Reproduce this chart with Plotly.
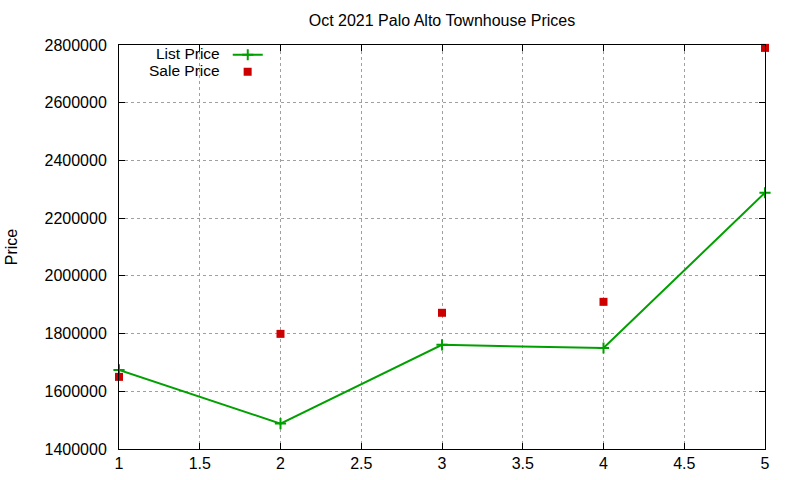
import plotly.graph_objects as go

x_vals = [1, 2, 3, 4, 5]
list_price = [1674000, 1488000, 1761000, 1750000, 2288000]
sale_price = [1650000, 1799000, 1872000, 1910000, 2790000]
series_names = ["List Price", "Sale Price"]
title = "Oct 2021 Palo Alto Townhouse Prices"
y_label = "Price"
x_ticks = [1, 1.5, 2, 2.5, 3, 3.5, 4, 4.5, 5]
x_tick_text = ["1", "1.5", "2", "2.5", "3", "3.5", "4", "4.5", "5"]
y_ticks = [1400000, 1600000, 1800000, 2000000, 2200000, 2400000, 2600000, 2800000]

FONT = "Liberation Sans, Arial, sans-serif"
W, H = 800, 480
L, R, T, B = 119, 35, 45, 31
PW, PH = W - L - R, H - T - B


def px_x(p):
    return (p - L) / PW


def px_y(p):
    return 1 - (p - T) / PH


fig = go.Figure()
fig.add_trace(go.Scatter(
    x=x_vals, y=list_price, name="", mode="lines+markers", legend="legend",
    line=dict(color="#00a000", width=2),
    marker=dict(symbol="cross-thin", size=8, line=dict(color="#00a000", width=2)),
    cliponaxis=False,
    hovertemplate=series_names[0] + ": %{y}<extra></extra>",
))
fig.add_trace(go.Scatter(
    x=x_vals, y=sale_price, name="", mode="markers", legend="legend2",
    marker=dict(symbol="square", size=8, color="#cc0000"),
    cliponaxis=False,
    hovertemplate=series_names[1] + ": %{y}<extra></extra>",
))

axis_common = dict(
    showline=True, linecolor="black", linewidth=1, mirror="ticks",
    ticks="inside", ticklen=6, tickcolor="black",
    showgrid=True, gridcolor="#a0a0a0", griddash="dot", gridwidth=1,
    zeroline=False, automargin=False,
    tickfont=dict(family=FONT, size=16, color="black"),
)

legend_common = dict(
    orientation="h", xanchor="right", yanchor="middle",
    bgcolor="rgba(0,0,0,0)", font=dict(family=FONT, size=15, color="black"),
    itemwidth=30,
)

fig.update_layout(
    width=W, height=H,
    margin=dict(l=L, r=R, t=T, b=B),
    paper_bgcolor="white", plot_bgcolor="white",
    title=dict(text=title, x=(L + W - R) / 2 / W, xanchor="center",
               y=1 - 20 / H, yanchor="middle",
               font=dict(family=FONT, size=16, color="black")),
    xaxis=dict(range=[1, 5], tickvals=x_ticks, ticktext=x_tick_text, **axis_common),
    yaxis=dict(range=[1400000, 2800000], tickvals=y_ticks, tickformat="d",
               ticklabelstandoff=8,
               title=dict(text=y_label, font=dict(family=FONT, size=16, color="black"), standoff=22),
               **axis_common),
    showlegend=True,
    legend=dict(x=px_x(273), y=px_y(55),
                title=dict(text=series_names[0], side="left",
                           font=dict(family=FONT, size=15.5, color="black")),
                **legend_common),
    legend2=dict(x=px_x(273), y=px_y(72),
                 title=dict(text=series_names[1], side="left",
                            font=dict(family=FONT, size=15.5, color="black")),
                 **legend_common),
)

fig.write_html("out.html", config={"displayModeBar": False},
               post_script="document.body.style.margin='0';")
